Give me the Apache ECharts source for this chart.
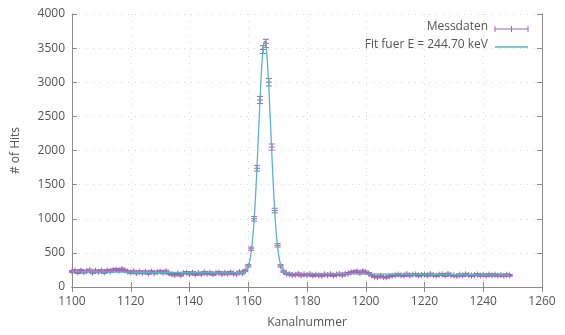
<!DOCTYPE html>
<html>
<head>
<meta charset="utf-8">
<script src="https://cdn.jsdelivr.net/npm/echarts@6/dist/echarts.min.js"></script>
<style>
html,body{margin:0;padding:0;background:#fff;}
#chart{width:565px;height:335px;}
</style>
</head>
<body>
<div id="chart"></div>
<script>
// Channel numbers of the measurement
const channels = [];
for (let c = 1100; c <= 1249; c++) channels.push(c);

// Measured counts (Messdaten), one per channel 1100..1249
const counts = [
  225, 238, 212, 240, 218, 232, 246, 210, 236, 222,
  238, 214, 242, 226, 250, 255, 240, 262, 244, 225,
  212, 230, 205, 224, 208, 222, 200, 228, 206, 218,
  228, 208, 232, 200, 186, 176, 198, 172, 204, 212,
  190, 210, 184, 204, 188, 214, 194, 208, 186, 204,
  212, 190, 208, 194, 214, 198, 190, 218, 204, 240,
  310, 560, 1000, 1740, 2740, 3480, 3570, 3000, 2050, 1120,
  610, 310, 230, 195, 188, 176, 180, 192, 172, 185,
  174, 188, 166, 182, 172, 164, 186, 174, 188, 168,
  182, 190, 174, 192, 198, 214, 222, 230, 204, 232,
  218, 198, 172, 152, 144, 162, 146, 142, 158, 166,
  172, 182, 172, 166, 188, 170, 180, 184, 168, 178,
  182, 170, 188, 174, 166, 180, 184, 168, 190, 174,
  170, 162, 180, 168, 186, 174, 166, 176, 182, 168,
  178, 166, 182, 170, 180, 168, 176, 166, 180, 170
];

// Fit curve (Fit fuer E = 244.70 keV)
const fitX = [1100, 1110, 1120, 1130, 1140, 1150, 1156, 1158, 1159, 1160, 1160.5, 1161, 1161.5, 1162, 1162.5, 1163, 1163.5, 1164, 1164.5, 1165, 1165.5, 1166, 1166.5, 1167, 1167.5, 1168, 1168.5, 1169, 1169.5, 1170, 1170.5, 1171, 1172, 1173, 1175, 1190, 1210, 1230, 1249];
const fitY = [225, 222, 218, 215, 212, 208, 207, 210, 229, 302, 383, 513, 710, 986, 1348, 1784, 2266, 2747, 3168, 3467, 3599, 3542, 3305, 2925, 2460, 1972, 1512, 1119, 808, 580, 425, 326, 234, 207, 200, 195, 188, 182, 175];

// Axis ticks
const xTicks = [1100, 1120, 1140, 1160, 1180, 1200, 1220, 1240, 1260];
const yTicks = [0, 500, 1000, 1500, 2000, 2500, 3000, 3500, 4000];

const dataColor = '#9c68b4';
const fitColor = '#5ab5c3';
const axisColor = '#8c8c8c';
const textColor = '#555';
const fontFamily = 'Open Sans';

const errData = channels.map((c, i) => [c, counts[i], Math.sqrt(counts[i])]);
const fitData = fitX.map((x, i) => [x, fitY[i]]);

const chart = echarts.init(document.getElementById('chart'), null, {renderer: 'canvas'});

const plain = v => String(v);
const gridLine = {show: true, lineStyle: {color: '#d6d6d6', type: [1, 6], width: 1}};

const baseAxis = {
  type: 'value',
  axisLine: {show: true, lineStyle: {color: axisColor, width: 1}},
  axisTick: {show: true, inside: true, length: 5, lineStyle: {color: axisColor}},
  splitLine: {show: false},
  axisLabel: {color: textColor, fontFamily: fontFamily, fontSize: 12, formatter: plain}
};

chart.setOption({
  animation: false,
  backgroundColor: '#fff',
  grid: {left: 72, right: 23, top: 14, bottom: 48, containLabel: false},
  xAxis: [
    Object.assign({}, baseAxis, {
      position: 'bottom',
      min: xTicks[0], max: xTicks[xTicks.length - 1], interval: 20,
      name: 'Kanalnummer', nameLocation: 'middle', nameGap: 30,
      nameTextStyle: {color: textColor, fontFamily: fontFamily, fontSize: 12},
      axisLabel: {color: textColor, fontFamily: fontFamily, fontSize: 12, margin: 9, formatter: plain},
      splitLine: gridLine
    }),
    Object.assign({}, baseAxis, {
      position: 'top',
      min: xTicks[0], max: xTicks[xTicks.length - 1], interval: 20,
      axisLabel: {show: false}
    })
  ],
  yAxis: [
    Object.assign({}, baseAxis, {
      position: 'left',
      min: yTicks[0], max: yTicks[yTicks.length - 1], interval: 500,
      name: '# of Hits', nameLocation: 'middle', nameGap: 50, nameRotate: 90,
      nameTextStyle: {color: textColor, fontFamily: fontFamily, fontSize: 12},
      axisLabel: {color: textColor, fontFamily: fontFamily, fontSize: 12, margin: 7, formatter: plain},
      splitLine: gridLine
    }),
    Object.assign({}, baseAxis, {
      position: 'right',
      min: yTicks[0], max: yTicks[yTicks.length - 1], interval: 500,
      axisLabel: {show: false}
    })
  ],
  series: [
    {
      name: 'Messdaten',
      type: 'custom',
      xAxisIndex: 0, yAxisIndex: 0,
      data: errData,
      z: 2,
      renderItem: function (params, api) {
        const x = api.value(0), y = api.value(1), e = api.value(2);
        const top = api.coord([x, y + e]);
        const bot = api.coord([x, y - e]);
        const mid = api.coord([x, y]);
        const hw = 3;
        const st = {stroke: dataColor, lineWidth: 1};
        return {
          type: 'group',
          children: [
            {type: 'line', shape: {x1: top[0], y1: top[1], x2: bot[0], y2: bot[1]}, style: st},
            {type: 'line', shape: {x1: top[0] - hw, y1: top[1], x2: top[0] + hw, y2: top[1]}, style: st},
            {type: 'line', shape: {x1: bot[0] - hw, y1: bot[1], x2: bot[0] + hw, y2: bot[1]}, style: st},
            {type: 'line', shape: {x1: mid[0] - hw, y1: mid[1], x2: mid[0] + hw, y2: mid[1]}, style: st},
            {type: 'line', shape: {x1: mid[0], y1: mid[1] - hw, x2: mid[0], y2: mid[1] + hw}, style: st}
          ]
        };
      }
    },
    {
      name: 'Fit fuer E = 244.70 keV',
      type: 'line',
      xAxisIndex: 0, yAxisIndex: 0,
      data: fitData,
      showSymbol: false,
      smooth: 0.25,
      z: 3,
      lineStyle: {color: fitColor, width: 1.3}
    }
  ],
  graphic: [
    {type: 'text', right: 565 - 488, top: 21, style: {text: 'Messdaten', fill: textColor, font: '12px "Open Sans"', textAlign: 'right'}},
    {type: 'text', right: 565 - 488, top: 39, style: {text: 'Fit fuer E = 244.70 keV', fill: textColor, font: '12px "Open Sans"', textAlign: 'right'}},
    {type: 'line', shape: {x1: 495, y1: 29, x2: 528, y2: 29}, style: {stroke: dataColor, lineWidth: 1}},
    {type: 'line', shape: {x1: 495, y1: 26, x2: 495, y2: 32}, style: {stroke: dataColor, lineWidth: 1}},
    {type: 'line', shape: {x1: 511.5, y1: 26, x2: 511.5, y2: 32}, style: {stroke: dataColor, lineWidth: 1}},
    {type: 'line', shape: {x1: 528, y1: 26, x2: 528, y2: 32}, style: {stroke: dataColor, lineWidth: 1}},
    {type: 'line', shape: {x1: 495, y1: 47, x2: 528, y2: 47}, style: {stroke: fitColor, lineWidth: 1.5}}
  ]
});
</script>
</body>
</html>
